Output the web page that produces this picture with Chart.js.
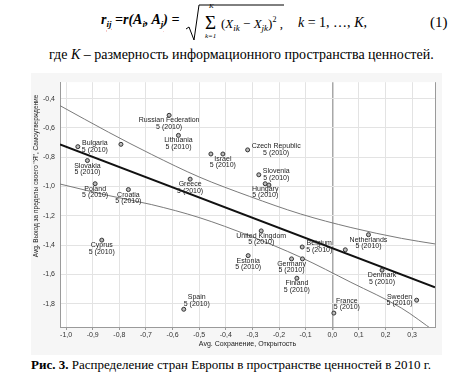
<!DOCTYPE html>
<html lang="ru">
<head>
<meta charset="UTF-8">
<title>Рис. 3</title>
<script src="https://cdn.jsdelivr.net/npm/chart.js"></script>
<style>
  body { margin:0; width:460px; height:378px; background:#fff; position:relative; overflow:hidden; font-family:"Liberation Serif","Times New Roman",serif; color:#000; }
  .t { position:absolute; white-space:nowrap; line-height:1; }
  .sb { font-size:9px; vertical-align:-3px; }
  .sp { font-size:8px; vertical-align:6px; }
  .wavy { text-decoration:underline wavy #d33; text-decoration-thickness:1px; }
  #chartBox { position:absolute; left:31px; top:73px; width:411px; height:282px; }
</style>
</head>
<body>
  <!-- formula (1) -->
  <div class="t" style="left:101px;top:13px;font-size:14px;font-weight:bold;font-style:italic">r<span class="sb wavy">ij</span> =r(A<span class="sb">i</span>, A<span class="sb wavy">j</span>) =</div>
  <svg style="position:absolute;left:186px;top:3px" width="100" height="40">
    <polyline points="0,26 3,24 8,37 13,2 98,2" fill="none" stroke="#000" stroke-width="1"/>
  </svg>
  <div class="t" style="left:205px;top:13px;font-size:19px">&Sigma;</div>
  <div class="t" style="left:209px;top:3px;font-size:7px;font-style:italic">K</div>
  <div class="t" style="left:205px;top:33px;font-size:7px;font-style:italic">k=1</div>
  <div class="t" style="left:221px;top:16px;font-size:13px">(<i>X</i><span class="sb"><i>ik</i></span> &minus; <i>X</i><span class="sb"><i>jk</i></span>)<span class="sp">2</span> ,</div>
  <div class="t" style="left:298px;top:16px;font-size:14px"><i>k</i> = 1, &hellip;, <i>K</i>,</div>
  <div class="t" style="left:430px;top:15px;font-size:15px">(1)</div>
  <div class="t" style="left:49px;top:48px;font-size:14px">где <i>K</i> – размерность информационного пространства ценностей.</div>

  <div id="chartBox"><canvas id="scatterChart" width="411" height="282"></canvas></div>

  <div class="t" style="left:31px;top:358px;font-size:13px"><b>Рис. 3.</b> Распределение стран Европы в пространстве ценностей в 2010 г.</div>

  <script>
    // countries (empty name = point without a label)
    const countries = ['Russian Federation', 'Lithuania', 'Bulgaria', '', 'Slovakia', 'Poland', 'Croatia', '', 'Israel',
      'Czech Republic', 'Greece', 'Slovenia', 'Hungary', '', 'Cyprus', 'United Kingdom', 'Estonia', 'Germany', '',
      'Belgium', '', 'Finland', 'Spain', 'Netherlands', 'Denmark', 'Sweden', 'France'];
    const openness = [-0.613, -0.578, -0.956, -0.794, -0.920, -0.891, -0.766, -0.456, -0.411,
      -0.318, -0.534, -0.276, -0.252, -0.238, -0.866, -0.267, -0.316, -0.153, -0.112,
      -0.113, 0.049, -0.133, -0.558, 0.136, 0.187, 0.317, 0.006];
    const selfEnh = [-0.514, -0.651, -0.728, -0.712, -0.823, -0.981, -1.021, -0.778, -0.778,
      -0.750, -0.950, -0.920, -0.981, -0.990, -1.366, -1.303, -1.472, -1.494, -1.494,
      -1.413, -1.432, -1.626, -1.838, -1.329, -1.571, -1.776, -1.864];
    const yearTag = '5 (2010)';

    // fit line and its confidence band
    const fitX = [-1.023, 0.386];
    const fitY = [-0.712, -1.688];
    const bandX = [-1.023, -0.84, -0.68, -0.50, -0.31, -0.12, 0.07, 0.26, 0.386];
    const bandUpper = [-0.448, -0.630, -0.780, -0.935, -1.068, -1.187, -1.280, -1.354, -1.392];
    const bandLower = [-0.983, -1.062, -1.123, -1.212, -1.337, -1.482, -1.654, -1.830, -1.990];

    const xTicks = [-1.0, -0.9, -0.8, -0.7, -0.6, -0.5, -0.4, -0.3, -0.2, -0.1, 0.0, 0.1, 0.2, 0.3];
    const yTicks = [-0.4, -0.6, -0.8, -1.0, -1.2, -1.4, -1.6, -1.8];

    const xTitle = 'Avg. Сохранение, Открытость';
    const yTitle = 'Avg. Выход за пределы своего "Я", Самоутверждение';

    // where each label sits relative to its point
    const labelPos = ['below', 'below', 'right', '', 'below', 'below', 'below', '', 'below',
      'right', 'below', 'right', 'below', '', 'below', 'below', 'below', 'below', '',
      'right', '', 'below', 'aboveRight', 'below', 'below', 'left', 'aboveRight'];

    const fmt = v => v.toFixed(1).replace('.', ',');
    const pts = (xs, ys) => xs.map((x, i) => ({ x: x, y: ys[i] }));

    const decor = {
      id: 'decor',
      beforeDraw(chart) {
        const { ctx, chartArea: a } = chart;
        ctx.save();
        ctx.fillStyle = '#f6f6f6';
        ctx.fillRect(0, 0, chart.width, chart.height);
        ctx.fillStyle = '#fff';
        ctx.fillRect(a.left, a.top, a.right - a.left, a.bottom - a.top);
        ctx.restore();
      },
      afterDatasetsDraw(chart) {
        const { ctx } = chart;
        const meta = chart.getDatasetMeta(0);
        ctx.save();
        ctx.font = '7px "Liberation Sans", Arial, sans-serif';
        ctx.fillStyle = '#222';
        ctx.textAlign = 'center';
        ctx.textBaseline = 'middle';
        meta.data.forEach((el, i) => {
          const name = countries[i];
          if (!name) return;
          const w = Math.max(ctx.measureText(name).width, ctx.measureText(yearTag).width);
          let cx = el.x, y1 = el.y + 5, y2 = el.y + 11.5;
          if (labelPos[i] === 'right') { cx = el.x + 4 + w / 2; y1 = el.y - 3.5; y2 = el.y + 3; }
          if (labelPos[i] === 'left') { cx = el.x - 4 - w / 2; y1 = el.y - 3.5; y2 = el.y + 3; }
          if (labelPos[i] === 'aboveRight') { cx = el.x + 13; y1 = el.y - 12; y2 = el.y - 5.7; }
          ctx.fillText(name, cx, y1);
          ctx.fillText(yearTag, cx, y2);
        });
        ctx.restore();
      },
      afterDraw(chart) {
        const { ctx, chartArea: a } = chart;
        ctx.save();
        // right frame line
        ctx.strokeStyle = '#9a9a9a';
        ctx.lineWidth = 1;
        ctx.beginPath();
        ctx.moveTo(a.right + 0.5, a.top);
        ctx.lineTo(a.right + 0.5, a.bottom);
        ctx.stroke();
        // axis titles
        ctx.fillStyle = '#222';
        ctx.textAlign = 'center';
        ctx.textBaseline = 'middle';
        ctx.font = '7px "Liberation Sans", Arial, sans-serif';
        ctx.fillText(xTitle, (a.left + a.right) / 2, 271);
        ctx.translate(5, 103);
        ctx.rotate(-Math.PI / 2);
        ctx.font = '6.5px "Liberation Sans", Arial, sans-serif';
        ctx.fillText(yTitle, 0, 0);
        ctx.restore();
      }
    };

    new Chart(document.getElementById('scatterChart').getContext('2d'), {
      type: 'scatter',
      data: {
        datasets: [
          {
            data: pts(openness, selfEnh),
            pointRadius: 2,
            borderWidth: 1,
            borderColor: '#333',
            backgroundColor: '#bbb'
          },
          {
            data: pts(fitX, fitY),
            showLine: true,
            pointRadius: 0,
            borderColor: '#111',
            borderWidth: 2
          },
          {
            data: pts(bandX, bandUpper),
            showLine: true,
            pointRadius: 0,
            borderColor: '#7a7a7a',
            borderWidth: 1,
            cubicInterpolationMode: 'monotone'
          },
          {
            data: pts(bandX, bandLower),
            showLine: true,
            pointRadius: 0,
            borderColor: '#7a7a7a',
            borderWidth: 1,
            cubicInterpolationMode: 'monotone'
          }
        ]
      },
      options: {
        responsive: false,
        animation: false,
        layout: { padding: { top: 1, right: 7, left: 0, bottom: 0 }, autoPadding: false },
        plugins: { legend: { display: false }, tooltip: { enabled: false } },
        scales: {
          x: {
            type: 'linear',
            min: -1.023,
            max: 0.386,
            afterFit: s => { s.height = 28; },
            afterBuildTicks: s => { s.ticks = xTicks.map(v => ({ value: v })); },
            border: { color: '#9a9a9a' },
            grid: {
              color: c => (c.tick && c.tick.value === 0 ? '#a8a8a8' : '#e3e3e3'),
              lineWidth: c => (c.tick && c.tick.value === 0 ? 1.5 : 1),
              tickLength: 3,
              tickColor: '#9a9a9a'
            },
            ticks: {
              padding: 1,
              maxRotation: 0,
              color: '#333',
              font: { family: '"Liberation Sans", Arial', size: 7 },
              callback: v => fmt(v)
            }
          },
          y: {
            type: 'linear',
            min: -1.959,
            max: -0.288,
            afterFit: s => { s.width = 29; },
            afterBuildTicks: s => { s.ticks = yTicks.map(v => ({ value: v })); },
            border: { color: '#9a9a9a' },
            grid: { color: '#e3e3e3', drawTicks: false },
            ticks: {
              padding: 5,
              color: '#333',
              font: { family: '"Liberation Sans", Arial', size: 7 },
              callback: v => fmt(v)
            }
          }
        }
      },
      plugins: [decor]
    });
  </script>
</body>
</html>
